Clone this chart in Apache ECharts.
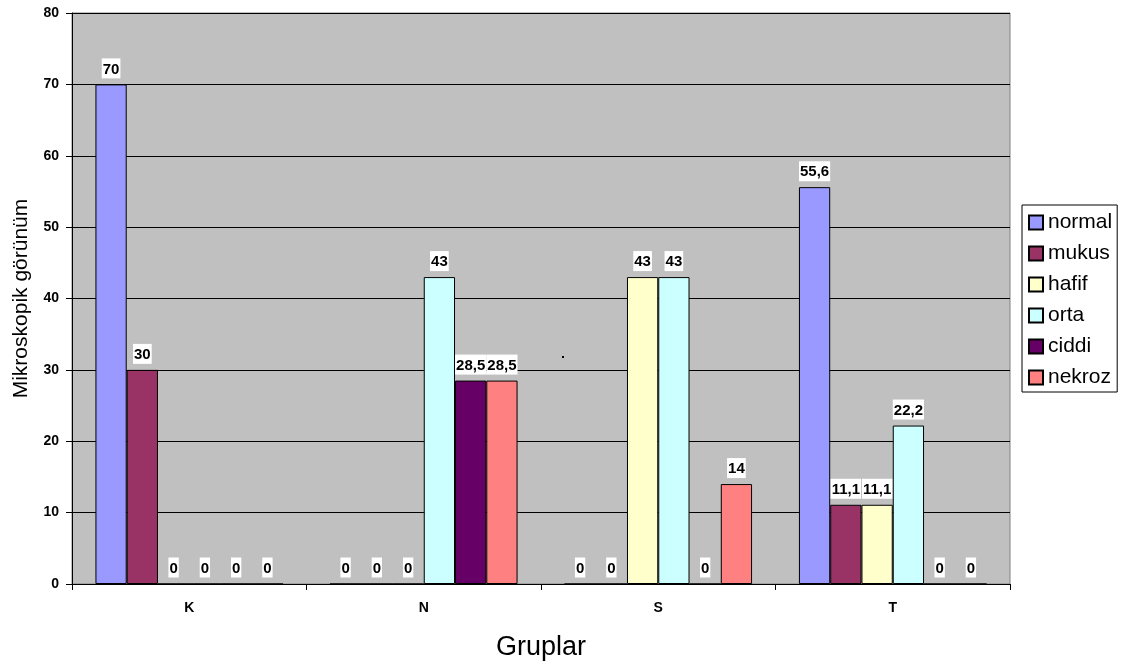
<!DOCTYPE html>
<html><head><meta charset="utf-8">
<script src="https://cdn.jsdelivr.net/npm/echarts@6/dist/echarts.min.js"></script>
<style>html,body{margin:0;padding:0;background:#fff}#c{width:1128px;height:666px}</style>
</head><body><div id="c"></div>
<script>
const categories = ['K','N','S','T'];
const seriesNames = ['normal','mukus','hafif','orta','ciddi','nekroz'];
const normal = [70, 0, 0, 55.6];
const mukus = [30, 0, 0, 11.1];
const hafif = [0, 0, 43, 11.1];
const orta = [0, 43, 43, 22.2];
const ciddi = [0, 28.5, 0, 0];
const nekroz = [0, 28.5, 14, 0];
const values = [normal, mukus, hafif, orta, ciddi, nekroz];
const colors = ['#9999FF','#993366','#FFFFCC','#CCFFFF','#660066','#FF8080'];
const font = '"Liberation Sans", Arial, sans-serif';

const chart = echarts.init(document.getElementById('c'), null, {renderer:'canvas'});
chart.setOption({
  animation:false,
  backgroundColor:'#fff',
  grid:{left:72, right:118, top:13, bottom:82, show:true, backgroundColor:'#C0C0C0', borderColor:'#808080', borderWidth:1},
  legend:{
    orient:'vertical', left:1022, top:205, data:seriesNames,
    itemWidth:14, itemHeight:14, itemGap:10, icon:'rect',
    borderColor:'#000', borderWidth:1, padding:[7,5,4,6],
    textStyle:{fontFamily:font, fontSize:21, color:'#000', lineHeight:21}
  },
  xAxis:{
    type:'category', data:categories,
    name:'Gruplar', nameLocation:'middle', nameGap:50,
    nameTextStyle:{fontFamily:font, fontSize:27, color:'#000'},
    axisLine:{lineStyle:{color:'#000'}},
    axisTick:{show:true, length:6, lineStyle:{color:'#000'}},
    axisLabel:{fontFamily:font, fontSize:14, fontWeight:'bold', color:'#000', margin:17}
  },
  yAxis:{
    type:'value', min:0, max:80, interval:10,
    name:'Mikroskopik görünüm', nameLocation:'middle', nameGap:40,
    nameTextStyle:{fontFamily:font, fontSize:21, color:'#000'},
    axisLine:{show:true, lineStyle:{color:'#000'}},
    axisTick:{show:true, length:6, lineStyle:{color:'#000'}},
    axisLabel:{fontFamily:font, fontSize:14, fontWeight:'bold', color:'#000', margin:13},
    splitLine:{lineStyle:{color:'#000', width:1}}
  },
  series: seriesNames.map((n,i)=>({
    name:n, type:'bar', data:values[i],
    barGap:'0%', barCategoryGap:'20%',
    itemStyle:{color:colors[i], borderColor:'#000', borderWidth:1},
    labelLayout:{hideOverlap:false},
    label:{show:true, position:'top', distance:6,
      fontFamily:font, fontSize:15, fontWeight:'bold', color:'#000', lineHeight:16,
      backgroundColor:'#fff', padding:[3,1,1,1],
      formatter:p=>String(p.value).replace('.',',')}
  })),
  graphic:[{type:'rect', shape:{x:562, y:356, width:2, height:2}, style:{fill:'#000'}}]
});
</script></body></html>
